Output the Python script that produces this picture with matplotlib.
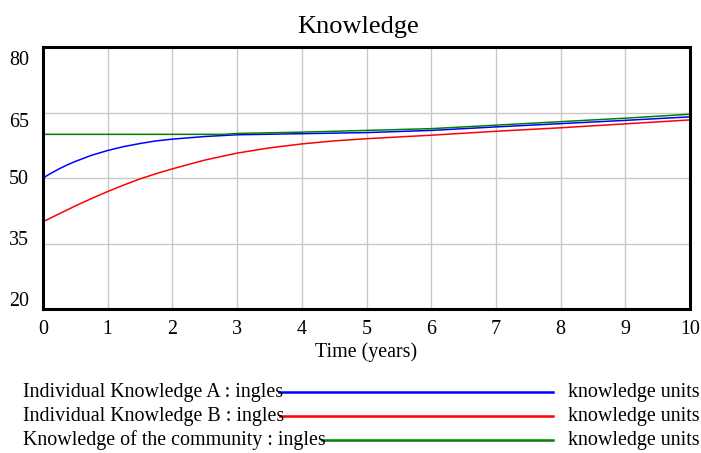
import matplotlib
matplotlib.use("Agg")
import matplotlib.pyplot as plt
import matplotlib.transforms as mtransforms
from matplotlib.lines import Line2D

plt.rcParams['font.family'] = ['Liberation Serif', 'DejaVu Serif']

# valores
t_a = [0, 0.125, 0.25, 0.375, 0.5, 0.75, 1, 1.25, 1.5, 1.75, 2, 2.5, 3, 4, 5, 6, 7, 8, 9, 10]
knowledge_a = [50, 51.1, 52.1, 53.0, 53.8, 55.2, 56.3, 57.2, 57.9, 58.5, 58.9, 59.5, 59.9, 60.15, 60.4, 60.9, 61.7, 62.45, 63.2, 64.0]

t_b = [0, 0.25, 0.5, 0.75, 1, 1.25, 1.5, 1.75, 2, 2.5, 3, 3.5, 4, 4.5, 5, 6, 7, 8, 9, 10]
knowledge_b = [40, 41.8, 43.6, 45.3, 46.9, 48.4, 49.8, 51.0, 52.1, 54.1, 55.7, 56.9, 57.8, 58.5, 59.0, 59.8, 60.7, 61.5, 62.4, 63.3]

t_c = [0, 2.8, 3, 4, 5, 6, 7, 8, 9, 10]
knowledge_c = [60, 60, 60.2, 60.5, 60.9, 61.3, 62.1, 62.9, 63.7, 64.6]

series_names = ["Individual Knowledge A : ingles",
                "Individual Knowledge B : ingles",
                "Knowledge of the community : ingles"]
series_units = ["knowledge units"] * 3
colors = ["#0000ff", "#ff0000", "#008000"]

x_ticks = list(range(0, 11))
y_ticks = [20, 35, 50, 65, 80]

W, H = 701, 453
fig = plt.figure(figsize=(W / 100, H / 100), dpi=100)
ax = fig.add_axes([43 / W, 1 - 309 / H, (690 - 43) / W, (309 - 47) / H])

ax.plot(t_a, knowledge_a, color=colors[0], lw=1.1)
ax.plot(t_b, knowledge_b, color=colors[1], lw=1.1)
ax.plot(t_c, knowledge_c, color=colors[2], lw=1.1)

ax.set_xlim(0, 10)
ax.set_ylim(20, 80)
ax.set_xticks(x_ticks)
ax.set_yticks(y_ticks)
ax.grid(True, color="#c8c8c8", lw=1)
ax.tick_params(length=0, labelsize=14.4)
ax.tick_params(axis='y', pad=10)
ax.tick_params(axis='x', pad=8)
for s in ax.spines.values():
    s.set_linewidth(2.2)
    s.set_color("black")

# etiquetas del eje y repartidas como en Vensim
dy_px = [10.4, 5.7, 1, -7.7, -11.4]
for lab, d in zip(ax.get_yticklabels(), dy_px):
    off = mtransforms.ScaledTranslation(0, d / 100, fig.dpi_scale_trans)
    lab.set_transform(lab.get_transform() + off)

ax.set_xlabel("Time (years)", fontsize=14.4, labelpad=2)
ax.set_title("Knowledge", fontsize=19, pad=10, x=(358 - 43) / 647)

# leyenda estilo Vensim
fig.canvas.draw()
r = fig.canvas.get_renderer()
rows_y = [392, 416, 440]
for name, unit, c, y in zip(series_names, series_units, colors, rows_y):
    yf = 1 - y / H
    txt = fig.text(23 / W, yf, name, fontsize=14.4, va='center', ha='left')
    bb = txt.get_window_extent(renderer=r)
    fig.add_artist(Line2D([(bb.x1 - 4) / W, 553 / W], [yf, yf], color=c, lw=1.8,
                          transform=fig.transFigure))
    fig.text(568 / W, yf, unit, fontsize=14.4, va='center', ha='left')

fig.savefig("out.png", dpi=100)
